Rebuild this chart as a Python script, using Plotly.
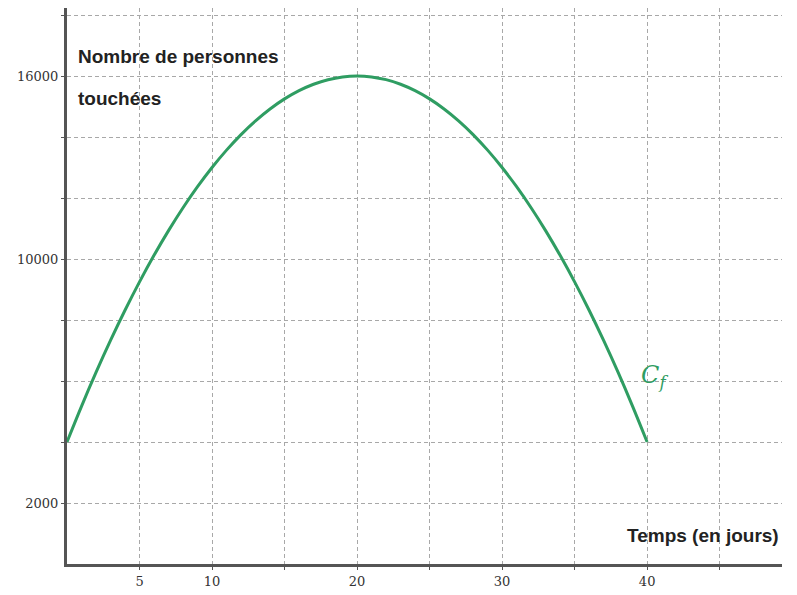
import plotly.graph_objects as go

# Data (days, number of people reached)
days = list(range(0, 41))
people = [4000, 5170, 6280, 7330, 8320, 9250, 10120, 10930, 11680, 12370,
          13000, 13570, 14080, 14530, 14920, 15250, 15520, 15730, 15880, 15970,
          16000, 15970, 15880, 15730, 15520, 15250, 14920, 14530, 14080, 13570,
          13000, 12370, 11680, 10930, 10120, 9250, 8320, 7330, 6280, 5170, 4000]

x_grid = [5, 10, 15, 20, 25, 30, 35, 40, 45]
x_labels = ["5", "10", "", "20", "", "30", "", "40", ""]
y_grid = [2000, 4000, 6000, 8000, 10000, 12000, 14000, 16000, 18000]
y_labels = ["2000", "", "", "", "10000", "", "", "16000", ""]

green = "#2f9d62"
axis_col = "#555555"
grid_col = "#a8a8a8"
tick_font = dict(family="DejaVu Serif, Liberation Serif, serif", size=13, color="#333333")

fig = go.Figure()
fig.add_trace(go.Scatter(x=days, y=people, mode="lines",
                         line=dict(color=green, width=3, shape="spline"),
                         hoverinfo="skip", showlegend=False))

# page body has an 8px default margin, so the figure is sized to fit inside it
fig.update_layout(
    width=789, height=587,
    margin=dict(l=59, r=15, t=0, b=31),
    paper_bgcolor="white", plot_bgcolor="white",
    xaxis=dict(range=[0, 49.3], tickmode="array", tickvals=x_grid, ticktext=x_labels,
               showgrid=True, gridcolor=grid_col, griddash="4px,3px", gridwidth=1,
               showline=True, linecolor=axis_col, linewidth=3,
               ticks="outside", ticklen=3, tickcolor=axis_col,
               tickfont=tick_font, zeroline=False, fixedrange=True, automargin=False),
    yaxis=dict(range=[0, 18230], tickmode="array", tickvals=y_grid, ticktext=y_labels,
               showgrid=True, gridcolor=grid_col, griddash="4px,3px", gridwidth=1,
               showline=True, linecolor=axis_col, linewidth=3,
               ticks="outside", ticklen=3, tickcolor=axis_col,
               tickfont=tick_font, zeroline=False, fixedrange=True, automargin=False),
    font=dict(family="Liberation Sans, Arial, sans-serif"),
)

title_font = dict(family="Liberation Sans, Arial, sans-serif", size=19, color="#222222")
fig.add_annotation(xref="paper", yref="paper", x=0.012, y=0.913, xanchor="left", yanchor="middle",
                   text="<b>Nombre de personnes</b>", showarrow=False, font=title_font)
fig.add_annotation(xref="paper", yref="paper", x=0.012, y=0.838, xanchor="left", yanchor="middle",
                   text="<b>touchées</b>", showarrow=False, font=title_font)
fig.add_annotation(xref="paper", yref="paper", x=0.999, y=0.052, xanchor="right", yanchor="middle",
                   text="<b>Temps (en jours)</b>", showarrow=False, font=title_font)
fig.add_annotation(x=40.5, y=6150, xanchor="center", yanchor="middle",
                   text="<i>C<sub>f</sub></i>", showarrow=False,
                   font=dict(family="DejaVu Serif, Liberation Serif, serif", size=24, color=green))

fig.write_html("out.html")
